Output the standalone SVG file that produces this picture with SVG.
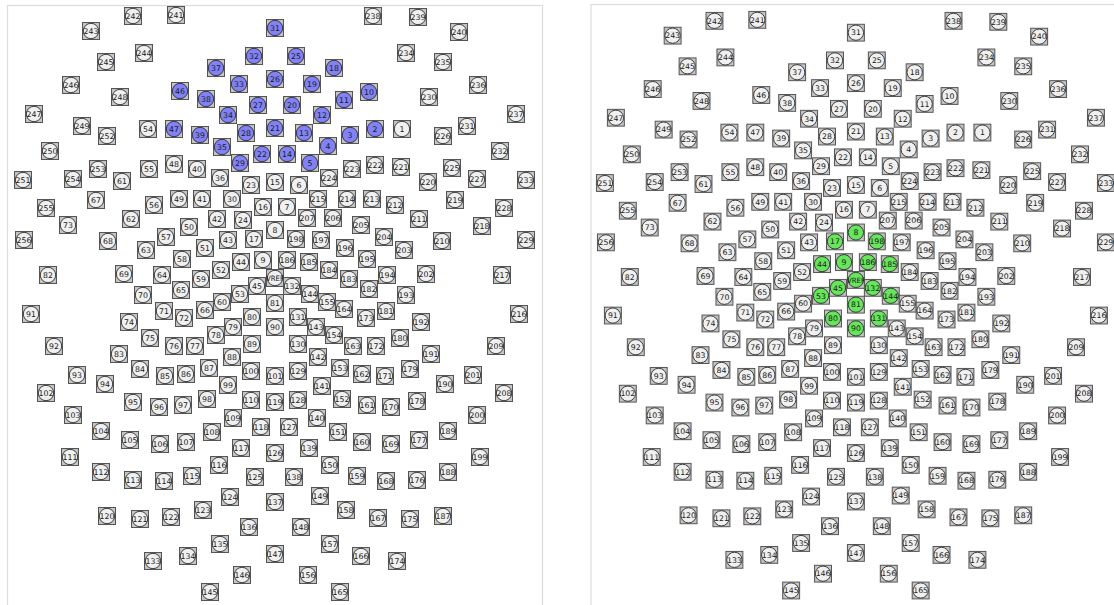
<svg xmlns="http://www.w3.org/2000/svg" xmlns:xlink="http://www.w3.org/1999/xlink" width="1114" height="605" viewBox="0 0 1114 605">
<style>
.n use{fill:#f0f0f0}
.n.b use{fill:#8282f7}
.n.g use{fill:#66e65a}
.n text{font-family:"DejaVu Sans",sans-serif;font-size:7.8px;text-anchor:middle;fill:#1a1a1a}
.n text.v{font-size:7.4px}
.frame{fill:#fff;stroke:#dcdcdc;stroke-width:1.2}
</style>
<defs>
<g id="e"><rect x="-8.5" y="-8.5" width="17" height="17" fill="#c4c4c4" stroke="#555" stroke-width="1"/><circle r="7.7" stroke="#2a2a2a" stroke-width="0.9"/></g>
</defs>
<rect width="1114" height="605" fill="#fff"/>
<rect class="frame" x="7.5" y="5.5" width="535" height="605"/>
<rect class="frame" x="591" y="4.5" width="530" height="605"/>
<g id="panelA">
<g id="a1" class="n" transform="translate(402 129)"><use href="#e"/><text y="2.8">1</text></g>
<g id="a2" class="n b" transform="translate(375 129)"><use href="#e"/><text y="2.8">2</text></g>
<g id="a3" class="n b" transform="translate(350 135)"><use href="#e"/><text y="2.8">3</text></g>
<g id="a4" class="n b" transform="translate(328 146)"><use href="#e"/><text y="2.8">4</text></g>
<g id="a5" class="n b" transform="translate(310 163)"><use href="#e"/><text y="2.8">5</text></g>
<g id="a6" class="n" transform="translate(299 185)"><use href="#e"/><text y="2.8">6</text></g>
<g id="a7" class="n" transform="translate(287 207)"><use href="#e"/><text y="2.8">7</text></g>
<g id="a8" class="n" transform="translate(275 230)"><use href="#e"/><text y="2.8">8</text></g>
<g id="a9" class="n" transform="translate(263 260)"><use href="#e"/><text y="2.8">9</text></g>
<g id="a10" class="n b" transform="translate(369 92)"><use href="#e"/><text y="2.8">10</text></g>
<g id="a11" class="n b" transform="translate(344 100)"><use href="#e"/><text y="2.8">11</text></g>
<g id="a12" class="n b" transform="translate(322 115)"><use href="#e"/><text y="2.8">12</text></g>
<g id="a13" class="n b" transform="translate(304 133)"><use href="#e"/><text y="2.8">13</text></g>
<g id="a14" class="n b" transform="translate(287 154)"><use href="#e"/><text y="2.8">14</text></g>
<g id="a15" class="n" transform="translate(275 182)"><use href="#e"/><text y="2.8">15</text></g>
<g id="a16" class="n" transform="translate(263 207)"><use href="#e"/><text y="2.8">16</text></g>
<g id="a17" class="n" transform="translate(254 239)"><use href="#e"/><text y="2.8">17</text></g>
<g id="a18" class="n b" transform="translate(334 68)"><use href="#e"/><text y="2.8">18</text></g>
<g id="a19" class="n b" transform="translate(312 84)"><use href="#e"/><text y="2.8">19</text></g>
<g id="a20" class="n b" transform="translate(292 105)"><use href="#e"/><text y="2.8">20</text></g>
<g id="a21" class="n b" transform="translate(275 128)"><use href="#e"/><text y="2.8">21</text></g>
<g id="a22" class="n b" transform="translate(262 154)"><use href="#e"/><text y="2.8">22</text></g>
<g id="a23" class="n" transform="translate(251 185)"><use href="#e"/><text y="2.8">23</text></g>
<g id="a24" class="n" transform="translate(243 220)"><use href="#e"/><text y="2.8">24</text></g>
<g id="a25" class="n b" transform="translate(296 56)"><use href="#e"/><text y="2.8">25</text></g>
<g id="a26" class="n b" transform="translate(275 79)"><use href="#e"/><text y="2.8">26</text></g>
<g id="a27" class="n b" transform="translate(258 105)"><use href="#e"/><text y="2.8">27</text></g>
<g id="a28" class="n b" transform="translate(246 133)"><use href="#e"/><text y="2.8">28</text></g>
<g id="a29" class="n b" transform="translate(240 163)"><use href="#e"/><text y="2.8">29</text></g>
<g id="a30" class="n" transform="translate(232 199)"><use href="#e"/><text y="2.8">30</text></g>
<g id="a31" class="n b" transform="translate(275 28)"><use href="#e"/><text y="2.8">31</text></g>
<g id="a32" class="n b" transform="translate(254 56)"><use href="#e"/><text y="2.8">32</text></g>
<g id="a33" class="n b" transform="translate(239 84)"><use href="#e"/><text y="2.8">33</text></g>
<g id="a34" class="n b" transform="translate(228 115)"><use href="#e"/><text y="2.8">34</text></g>
<g id="a35" class="n b" transform="translate(222 147)"><use href="#e"/><text y="2.8">35</text></g>
<g id="a36" class="n" transform="translate(220 178)"><use href="#e"/><text y="2.8">36</text></g>
<g id="a37" class="n b" transform="translate(216 68)"><use href="#e"/><text y="2.8">37</text></g>
<g id="a38" class="n b" transform="translate(206 99)"><use href="#e"/><text y="2.8">38</text></g>
<g id="a39" class="n b" transform="translate(200 135)"><use href="#e"/><text y="2.8">39</text></g>
<g id="a40" class="n" transform="translate(197 169)"><use href="#e"/><text y="2.8">40</text></g>
<g id="a41" class="n" transform="translate(202 199)"><use href="#e"/><text y="2.8">41</text></g>
<g id="a42" class="n" transform="translate(217 219)"><use href="#e"/><text y="2.8">42</text></g>
<g id="a43" class="n" transform="translate(228 240)"><use href="#e"/><text y="2.8">43</text></g>
<g id="a44" class="n" transform="translate(241 262)"><use href="#e"/><text y="2.8">44</text></g>
<g id="a45" class="n" transform="translate(257 286)"><use href="#e"/><text y="2.8">45</text></g>
<g id="a46" class="n b" transform="translate(180 91)"><use href="#e"/><text y="2.8">46</text></g>
<g id="a47" class="n b" transform="translate(174 129)"><use href="#e"/><text y="2.8">47</text></g>
<g id="a48" class="n" transform="translate(174 164)"><use href="#e"/><text y="2.8">48</text></g>
<g id="a49" class="n" transform="translate(179 199)"><use href="#e"/><text y="2.8">49</text></g>
<g id="a50" class="n" transform="translate(189 227)"><use href="#e"/><text y="2.8">50</text></g>
<g id="a51" class="n" transform="translate(205 248)"><use href="#e"/><text y="2.8">51</text></g>
<g id="a52" class="n" transform="translate(221 270)"><use href="#e"/><text y="2.8">52</text></g>
<g id="a53" class="n" transform="translate(240 294)"><use href="#e"/><text y="2.8">53</text></g>
<g id="a54" class="n" transform="translate(148 129)"><use href="#e"/><text y="2.8">54</text></g>
<g id="a55" class="n" transform="translate(149 169)"><use href="#e"/><text y="2.8">55</text></g>
<g id="a56" class="n" transform="translate(154 205)"><use href="#e"/><text y="2.8">56</text></g>
<g id="a57" class="n" transform="translate(166 237)"><use href="#e"/><text y="2.8">57</text></g>
<g id="a58" class="n" transform="translate(182 259)"><use href="#e"/><text y="2.8">58</text></g>
<g id="a59" class="n" transform="translate(201 279)"><use href="#e"/><text y="2.8">59</text></g>
<g id="a60" class="n" transform="translate(222 302)"><use href="#e"/><text y="2.8">60</text></g>
<g id="a61" class="n" transform="translate(122 181)"><use href="#e"/><text y="2.8">61</text></g>
<g id="a62" class="n" transform="translate(131 219)"><use href="#e"/><text y="2.8">62</text></g>
<g id="a63" class="n" transform="translate(146 250)"><use href="#e"/><text y="2.8">63</text></g>
<g id="a64" class="n" transform="translate(162 275)"><use href="#e"/><text y="2.8">64</text></g>
<g id="a65" class="n" transform="translate(181 290)"><use href="#e"/><text y="2.8">65</text></g>
<g id="a66" class="n" transform="translate(205 310)"><use href="#e"/><text y="2.8">66</text></g>
<g id="a67" class="n" transform="translate(96 200)"><use href="#e"/><text y="2.8">67</text></g>
<g id="a68" class="n" transform="translate(108 241)"><use href="#e"/><text y="2.8">68</text></g>
<g id="a69" class="n" transform="translate(124 274)"><use href="#e"/><text y="2.8">69</text></g>
<g id="a70" class="n" transform="translate(143 295)"><use href="#e"/><text y="2.8">70</text></g>
<g id="a71" class="n" transform="translate(164 311)"><use href="#e"/><text y="2.8">71</text></g>
<g id="a72" class="n" transform="translate(184 318)"><use href="#e"/><text y="2.8">72</text></g>
<g id="a73" class="n" transform="translate(68 225)"><use href="#e"/><text y="2.8">73</text></g>
<g id="a74" class="n" transform="translate(129 322)"><use href="#e"/><text y="2.8">74</text></g>
<g id="a75" class="n" transform="translate(150 338)"><use href="#e"/><text y="2.8">75</text></g>
<g id="a76" class="n" transform="translate(174 346)"><use href="#e"/><text y="2.8">76</text></g>
<g id="a77" class="n" transform="translate(195 346)"><use href="#e"/><text y="2.8">77</text></g>
<g id="a78" class="n" transform="translate(216 335)"><use href="#e"/><text y="2.8">78</text></g>
<g id="a79" class="n" transform="translate(233 327)"><use href="#e"/><text y="2.8">79</text></g>
<g id="a80" class="n" transform="translate(252 317)"><use href="#e"/><text y="2.8">80</text></g>
<g id="a81" class="n" transform="translate(275 303)"><use href="#e"/><text y="2.8">81</text></g>
<g id="a82" class="n" transform="translate(48 275)"><use href="#e"/><text y="2.8">82</text></g>
<g id="a83" class="n" transform="translate(119 354)"><use href="#e"/><text y="2.8">83</text></g>
<g id="a84" class="n" transform="translate(140 369)"><use href="#e"/><text y="2.8">84</text></g>
<g id="a85" class="n" transform="translate(165 376)"><use href="#e"/><text y="2.8">85</text></g>
<g id="a86" class="n" transform="translate(186 374)"><use href="#e"/><text y="2.8">86</text></g>
<g id="a87" class="n" transform="translate(209 368)"><use href="#e"/><text y="2.8">87</text></g>
<g id="a88" class="n" transform="translate(232 357)"><use href="#e"/><text y="2.8">88</text></g>
<g id="a89" class="n" transform="translate(252 344)"><use href="#e"/><text y="2.8">89</text></g>
<g id="a90" class="n" transform="translate(275 327)"><use href="#e"/><text y="2.8">90</text></g>
<g id="a91" class="n" transform="translate(31 314)"><use href="#e"/><text y="2.8">91</text></g>
<g id="a92" class="n" transform="translate(54 346)"><use href="#e"/><text y="2.8">92</text></g>
<g id="a93" class="n" transform="translate(77 375)"><use href="#e"/><text y="2.8">93</text></g>
<g id="a94" class="n" transform="translate(105 384)"><use href="#e"/><text y="2.8">94</text></g>
<g id="a95" class="n" transform="translate(133 402)"><use href="#e"/><text y="2.8">95</text></g>
<g id="a96" class="n" transform="translate(159 407)"><use href="#e"/><text y="2.8">96</text></g>
<g id="a97" class="n" transform="translate(183 405)"><use href="#e"/><text y="2.8">97</text></g>
<g id="a98" class="n" transform="translate(207 399)"><use href="#e"/><text y="2.8">98</text></g>
<g id="a99" class="n" transform="translate(228 385)"><use href="#e"/><text y="2.8">99</text></g>
<g id="a100" class="n" transform="translate(251 371)"><use href="#e"/><text y="2.8">100</text></g>
<g id="a101" class="n" transform="translate(275 376)"><use href="#e"/><text y="2.8">101</text></g>
<g id="a102" class="n" transform="translate(46 393)"><use href="#e"/><text y="2.8">102</text></g>
<g id="a103" class="n" transform="translate(73 415)"><use href="#e"/><text y="2.8">103</text></g>
<g id="a104" class="n" transform="translate(101 431)"><use href="#e"/><text y="2.8">104</text></g>
<g id="a105" class="n" transform="translate(130 440)"><use href="#e"/><text y="2.8">105</text></g>
<g id="a106" class="n" transform="translate(160 444)"><use href="#e"/><text y="2.8">106</text></g>
<g id="a107" class="n" transform="translate(186 442)"><use href="#e"/><text y="2.8">107</text></g>
<g id="a108" class="n" transform="translate(212 432)"><use href="#e"/><text y="2.8">108</text></g>
<g id="a109" class="n" transform="translate(233 418)"><use href="#e"/><text y="2.8">109</text></g>
<g id="a110" class="n" transform="translate(251 400)"><use href="#e"/><text y="2.8">110</text></g>
<g id="a111" class="n" transform="translate(70 457)"><use href="#e"/><text y="2.8">111</text></g>
<g id="a112" class="n" transform="translate(101 472)"><use href="#e"/><text y="2.8">112</text></g>
<g id="a113" class="n" transform="translate(133 480)"><use href="#e"/><text y="2.8">113</text></g>
<g id="a114" class="n" transform="translate(164 481)"><use href="#e"/><text y="2.8">114</text></g>
<g id="a115" class="n" transform="translate(192 476)"><use href="#e"/><text y="2.8">115</text></g>
<g id="a116" class="n" transform="translate(219 465)"><use href="#e"/><text y="2.8">116</text></g>
<g id="a117" class="n" transform="translate(241 448)"><use href="#e"/><text y="2.8">117</text></g>
<g id="a118" class="n" transform="translate(261 427)"><use href="#e"/><text y="2.8">118</text></g>
<g id="a119" class="n" transform="translate(275 402)"><use href="#e"/><text y="2.8">119</text></g>
<g id="a120" class="n" transform="translate(107 516)"><use href="#e"/><text y="2.8">120</text></g>
<g id="a121" class="n" transform="translate(140 519)"><use href="#e"/><text y="2.8">121</text></g>
<g id="a122" class="n" transform="translate(171 517)"><use href="#e"/><text y="2.8">122</text></g>
<g id="a123" class="n" transform="translate(203 510)"><use href="#e"/><text y="2.8">123</text></g>
<g id="a124" class="n" transform="translate(230 497)"><use href="#e"/><text y="2.8">124</text></g>
<g id="a125" class="n" transform="translate(255 477)"><use href="#e"/><text y="2.8">125</text></g>
<g id="a126" class="n" transform="translate(275 453)"><use href="#e"/><text y="2.8">126</text></g>
<g id="a127" class="n" transform="translate(289 427)"><use href="#e"/><text y="2.8">127</text></g>
<g id="a128" class="n" transform="translate(298 400)"><use href="#e"/><text y="2.8">128</text></g>
<g id="a129" class="n" transform="translate(298 371)"><use href="#e"/><text y="2.8">129</text></g>
<g id="a130" class="n" transform="translate(298 344)"><use href="#e"/><text y="2.8">130</text></g>
<g id="a131" class="n" transform="translate(298 317)"><use href="#e"/><text y="2.8">131</text></g>
<g id="a132" class="n" transform="translate(292 286)"><use href="#e"/><text y="2.8">132</text></g>
<g id="a133" class="n" transform="translate(153 561)"><use href="#e"/><text y="2.8">133</text></g>
<g id="a134" class="n" transform="translate(188 556)"><use href="#e"/><text y="2.8">134</text></g>
<g id="a135" class="n" transform="translate(220 544)"><use href="#e"/><text y="2.8">135</text></g>
<g id="a136" class="n" transform="translate(249 527)"><use href="#e"/><text y="2.8">136</text></g>
<g id="a137" class="n" transform="translate(275 502)"><use href="#e"/><text y="2.8">137</text></g>
<g id="a138" class="n" transform="translate(294 477)"><use href="#e"/><text y="2.8">138</text></g>
<g id="a139" class="n" transform="translate(309 448)"><use href="#e"/><text y="2.8">139</text></g>
<g id="a140" class="n" transform="translate(317 418)"><use href="#e"/><text y="2.8">140</text></g>
<g id="a141" class="n" transform="translate(322 386)"><use href="#e"/><text y="2.8">141</text></g>
<g id="a142" class="n" transform="translate(318 357)"><use href="#e"/><text y="2.8">142</text></g>
<g id="a143" class="n" transform="translate(316 327)"><use href="#e"/><text y="2.8">143</text></g>
<g id="a144" class="n" transform="translate(310 294)"><use href="#e"/><text y="2.8">144</text></g>
<g id="a145" class="n" transform="translate(210 592)"><use href="#e"/><text y="2.8">145</text></g>
<g id="a146" class="n" transform="translate(242 575)"><use href="#e"/><text y="2.8">146</text></g>
<g id="a147" class="n" transform="translate(275 554)"><use href="#e"/><text y="2.8">147</text></g>
<g id="a148" class="n" transform="translate(301 527)"><use href="#e"/><text y="2.8">148</text></g>
<g id="a149" class="n" transform="translate(320 496)"><use href="#e"/><text y="2.8">149</text></g>
<g id="a150" class="n" transform="translate(330 465)"><use href="#e"/><text y="2.8">150</text></g>
<g id="a151" class="n" transform="translate(338 432)"><use href="#e"/><text y="2.8">151</text></g>
<g id="a152" class="n" transform="translate(342 399)"><use href="#e"/><text y="2.8">152</text></g>
<g id="a153" class="n" transform="translate(340 368)"><use href="#e"/><text y="2.8">153</text></g>
<g id="a154" class="n" transform="translate(334 335)"><use href="#e"/><text y="2.8">154</text></g>
<g id="a155" class="n" transform="translate(327 302)"><use href="#e"/><text y="2.8">155</text></g>
<g id="a156" class="n" transform="translate(308 575)"><use href="#e"/><text y="2.8">156</text></g>
<g id="a157" class="n" transform="translate(330 544)"><use href="#e"/><text y="2.8">157</text></g>
<g id="a158" class="n" transform="translate(346 510)"><use href="#e"/><text y="2.8">158</text></g>
<g id="a159" class="n" transform="translate(357 476)"><use href="#e"/><text y="2.8">159</text></g>
<g id="a160" class="n" transform="translate(362 442)"><use href="#e"/><text y="2.8">160</text></g>
<g id="a161" class="n" transform="translate(367 405)"><use href="#e"/><text y="2.8">161</text></g>
<g id="a162" class="n" transform="translate(362 374)"><use href="#e"/><text y="2.8">162</text></g>
<g id="a163" class="n" transform="translate(353 346)"><use href="#e"/><text y="2.8">163</text></g>
<g id="a164" class="n" transform="translate(344 309)"><use href="#e"/><text y="2.8">164</text></g>
<g id="a165" class="n" transform="translate(340 592)"><use href="#e"/><text y="2.8">165</text></g>
<g id="a166" class="n" transform="translate(361 556)"><use href="#e"/><text y="2.8">166</text></g>
<g id="a167" class="n" transform="translate(378 518)"><use href="#e"/><text y="2.8">167</text></g>
<g id="a168" class="n" transform="translate(386 481)"><use href="#e"/><text y="2.8">168</text></g>
<g id="a169" class="n" transform="translate(391 444)"><use href="#e"/><text y="2.8">169</text></g>
<g id="a170" class="n" transform="translate(391 407)"><use href="#e"/><text y="2.8">170</text></g>
<g id="a171" class="n" transform="translate(385 376)"><use href="#e"/><text y="2.8">171</text></g>
<g id="a172" class="n" transform="translate(376 346)"><use href="#e"/><text y="2.8">172</text></g>
<g id="a173" class="n" transform="translate(366 318)"><use href="#e"/><text y="2.8">173</text></g>
<g id="a174" class="n" transform="translate(397 561)"><use href="#e"/><text y="2.8">174</text></g>
<g id="a175" class="n" transform="translate(410 519)"><use href="#e"/><text y="2.8">175</text></g>
<g id="a176" class="n" transform="translate(417 480)"><use href="#e"/><text y="2.8">176</text></g>
<g id="a177" class="n" transform="translate(419 440)"><use href="#e"/><text y="2.8">177</text></g>
<g id="a178" class="n" transform="translate(417 401)"><use href="#e"/><text y="2.8">178</text></g>
<g id="a179" class="n" transform="translate(410 369)"><use href="#e"/><text y="2.8">179</text></g>
<g id="a180" class="n" transform="translate(400 338)"><use href="#e"/><text y="2.8">180</text></g>
<g id="a181" class="n" transform="translate(386 311)"><use href="#e"/><text y="2.8">181</text></g>
<g id="a182" class="n" transform="translate(369 289)"><use href="#e"/><text y="2.8">182</text></g>
<g id="a183" class="n" transform="translate(349 279)"><use href="#e"/><text y="2.8">183</text></g>
<g id="a184" class="n" transform="translate(329 270)"><use href="#e"/><text y="2.8">184</text></g>
<g id="a185" class="n" transform="translate(309 262)"><use href="#e"/><text y="2.8">185</text></g>
<g id="a186" class="n" transform="translate(287 260)"><use href="#e"/><text y="2.8">186</text></g>
<g id="a187" class="n" transform="translate(443 516)"><use href="#e"/><text y="2.8">187</text></g>
<g id="a188" class="n" transform="translate(448 472)"><use href="#e"/><text y="2.8">188</text></g>
<g id="a189" class="n" transform="translate(448 431)"><use href="#e"/><text y="2.8">189</text></g>
<g id="a190" class="n" transform="translate(445 384)"><use href="#e"/><text y="2.8">190</text></g>
<g id="a191" class="n" transform="translate(431 354)"><use href="#e"/><text y="2.8">191</text></g>
<g id="a192" class="n" transform="translate(421 322)"><use href="#e"/><text y="2.8">192</text></g>
<g id="a193" class="n" transform="translate(406 295)"><use href="#e"/><text y="2.8">193</text></g>
<g id="a194" class="n" transform="translate(387 275)"><use href="#e"/><text y="2.8">194</text></g>
<g id="a195" class="n" transform="translate(367 259)"><use href="#e"/><text y="2.8">195</text></g>
<g id="a196" class="n" transform="translate(345 248)"><use href="#e"/><text y="2.8">196</text></g>
<g id="a197" class="n" transform="translate(321 240)"><use href="#e"/><text y="2.8">197</text></g>
<g id="a198" class="n" transform="translate(296 239)"><use href="#e"/><text y="2.8">198</text></g>
<g id="a199" class="n" transform="translate(480 457)"><use href="#e"/><text y="2.8">199</text></g>
<g id="a200" class="n" transform="translate(477 415)"><use href="#e"/><text y="2.8">200</text></g>
<g id="a201" class="n" transform="translate(473 375)"><use href="#e"/><text y="2.8">201</text></g>
<g id="a202" class="n" transform="translate(426 274)"><use href="#e"/><text y="2.8">202</text></g>
<g id="a203" class="n" transform="translate(404 250)"><use href="#e"/><text y="2.8">203</text></g>
<g id="a204" class="n" transform="translate(384 237)"><use href="#e"/><text y="2.8">204</text></g>
<g id="a205" class="n" transform="translate(361 225)"><use href="#e"/><text y="2.8">205</text></g>
<g id="a206" class="n" transform="translate(333 218)"><use href="#e"/><text y="2.8">206</text></g>
<g id="a207" class="n" transform="translate(307 218)"><use href="#e"/><text y="2.8">207</text></g>
<g id="a208" class="n" transform="translate(504 393)"><use href="#e"/><text y="2.8">208</text></g>
<g id="a209" class="n" transform="translate(496 346)"><use href="#e"/><text y="2.8">209</text></g>
<g id="a210" class="n" transform="translate(442 241)"><use href="#e"/><text y="2.8">210</text></g>
<g id="a211" class="n" transform="translate(419 219)"><use href="#e"/><text y="2.8">211</text></g>
<g id="a212" class="n" transform="translate(395 205)"><use href="#e"/><text y="2.8">212</text></g>
<g id="a213" class="n" transform="translate(372 199)"><use href="#e"/><text y="2.8">213</text></g>
<g id="a214" class="n" transform="translate(347 199)"><use href="#e"/><text y="2.8">214</text></g>
<g id="a215" class="n" transform="translate(318 199)"><use href="#e"/><text y="2.8">215</text></g>
<g id="a216" class="n" transform="translate(519 314)"><use href="#e"/><text y="2.8">216</text></g>
<g id="a217" class="n" transform="translate(502 275)"><use href="#e"/><text y="2.8">217</text></g>
<g id="a218" class="n" transform="translate(482 226)"><use href="#e"/><text y="2.8">218</text></g>
<g id="a219" class="n" transform="translate(455 200)"><use href="#e"/><text y="2.8">219</text></g>
<g id="a220" class="n" transform="translate(428 182)"><use href="#e"/><text y="2.8">220</text></g>
<g id="a221" class="n" transform="translate(401 167)"><use href="#e"/><text y="2.8">221</text></g>
<g id="a222" class="n" transform="translate(375 165)"><use href="#e"/><text y="2.8">222</text></g>
<g id="a223" class="n" transform="translate(352 169)"><use href="#e"/><text y="2.8">223</text></g>
<g id="a224" class="n" transform="translate(329 178)"><use href="#e"/><text y="2.8">224</text></g>
<g id="a225" class="n" transform="translate(452 168)"><use href="#e"/><text y="2.8">225</text></g>
<g id="a226" class="n" transform="translate(443 136)"><use href="#e"/><text y="2.8">226</text></g>
<g id="a227" class="n" transform="translate(477 179)"><use href="#e"/><text y="2.8">227</text></g>
<g id="a228" class="n" transform="translate(504 208)"><use href="#e"/><text y="2.8">228</text></g>
<g id="a229" class="n" transform="translate(526 240)"><use href="#e"/><text y="2.8">229</text></g>
<g id="a230" class="n" transform="translate(429 97)"><use href="#e"/><text y="2.8">230</text></g>
<g id="a231" class="n" transform="translate(467 126)"><use href="#e"/><text y="2.8">231</text></g>
<g id="a232" class="n" transform="translate(500 151)"><use href="#e"/><text y="2.8">232</text></g>
<g id="a233" class="n" transform="translate(526 180)"><use href="#e"/><text y="2.8">233</text></g>
<g id="a234" class="n" transform="translate(406 53)"><use href="#e"/><text y="2.8">234</text></g>
<g id="a235" class="n" transform="translate(443 62)"><use href="#e"/><text y="2.8">235</text></g>
<g id="a236" class="n" transform="translate(478 85)"><use href="#e"/><text y="2.8">236</text></g>
<g id="a237" class="n" transform="translate(516 114)"><use href="#e"/><text y="2.8">237</text></g>
<g id="a238" class="n" transform="translate(373 16)"><use href="#e"/><text y="2.8">238</text></g>
<g id="a239" class="n" transform="translate(418 17)"><use href="#e"/><text y="2.8">239</text></g>
<g id="a240" class="n" transform="translate(459 32)"><use href="#e"/><text y="2.8">240</text></g>
<g id="a241" class="n" transform="translate(176 15)"><use href="#e"/><text y="2.8">241</text></g>
<g id="a242" class="n" transform="translate(133 16)"><use href="#e"/><text y="2.8">242</text></g>
<g id="a243" class="n" transform="translate(91 31)"><use href="#e"/><text y="2.8">243</text></g>
<g id="a244" class="n" transform="translate(144 53)"><use href="#e"/><text y="2.8">244</text></g>
<g id="a245" class="n" transform="translate(106 62)"><use href="#e"/><text y="2.8">245</text></g>
<g id="a246" class="n" transform="translate(71 85)"><use href="#e"/><text y="2.8">246</text></g>
<g id="a247" class="n" transform="translate(34 114)"><use href="#e"/><text y="2.8">247</text></g>
<g id="a248" class="n" transform="translate(120 97)"><use href="#e"/><text y="2.8">248</text></g>
<g id="a249" class="n" transform="translate(82 126)"><use href="#e"/><text y="2.8">249</text></g>
<g id="a250" class="n" transform="translate(50 151)"><use href="#e"/><text y="2.8">250</text></g>
<g id="a251" class="n" transform="translate(23 180)"><use href="#e"/><text y="2.8">251</text></g>
<g id="a252" class="n" transform="translate(107 136)"><use href="#e"/><text y="2.8">252</text></g>
<g id="a253" class="n" transform="translate(98 169)"><use href="#e"/><text y="2.8">253</text></g>
<g id="a254" class="n" transform="translate(73 179)"><use href="#e"/><text y="2.8">254</text></g>
<g id="a255" class="n" transform="translate(46 208)"><use href="#e"/><text y="2.8">255</text></g>
<g id="a256" class="n" transform="translate(24 240)"><use href="#e"/><text y="2.8">256</text></g>
<g id="aREF" class="n" transform="translate(275 278)"><use href="#e"/><text class="v" y="2.7" textLength="18" lengthAdjust="spacingAndGlyphs">VREF</text></g>
</g>
<g id="panelB" transform="translate(582 5) scale(0.996 0.989)">
<g id="b1" class="n" transform="translate(402 129)"><use href="#e"/><text y="2.8">1</text></g>
<g id="b2" class="n" transform="translate(375 129)"><use href="#e"/><text y="2.8">2</text></g>
<g id="b3" class="n" transform="translate(350 135)"><use href="#e"/><text y="2.8">3</text></g>
<g id="b4" class="n" transform="translate(328 146)"><use href="#e"/><text y="2.8">4</text></g>
<g id="b5" class="n" transform="translate(310 163)"><use href="#e"/><text y="2.8">5</text></g>
<g id="b6" class="n" transform="translate(299 185)"><use href="#e"/><text y="2.8">6</text></g>
<g id="b7" class="n" transform="translate(287 207)"><use href="#e"/><text y="2.8">7</text></g>
<g id="b8" class="n g" transform="translate(275 230)"><use href="#e"/><text y="2.8">8</text></g>
<g id="b9" class="n g" transform="translate(263 260)"><use href="#e"/><text y="2.8">9</text></g>
<g id="b10" class="n" transform="translate(369 92)"><use href="#e"/><text y="2.8">10</text></g>
<g id="b11" class="n" transform="translate(344 100)"><use href="#e"/><text y="2.8">11</text></g>
<g id="b12" class="n" transform="translate(322 115)"><use href="#e"/><text y="2.8">12</text></g>
<g id="b13" class="n" transform="translate(304 133)"><use href="#e"/><text y="2.8">13</text></g>
<g id="b14" class="n" transform="translate(287 154)"><use href="#e"/><text y="2.8">14</text></g>
<g id="b15" class="n" transform="translate(275 182)"><use href="#e"/><text y="2.8">15</text></g>
<g id="b16" class="n" transform="translate(263 207)"><use href="#e"/><text y="2.8">16</text></g>
<g id="b17" class="n g" transform="translate(254 239)"><use href="#e"/><text y="2.8">17</text></g>
<g id="b18" class="n" transform="translate(334 68)"><use href="#e"/><text y="2.8">18</text></g>
<g id="b19" class="n" transform="translate(312 84)"><use href="#e"/><text y="2.8">19</text></g>
<g id="b20" class="n" transform="translate(292 105)"><use href="#e"/><text y="2.8">20</text></g>
<g id="b21" class="n" transform="translate(275 128)"><use href="#e"/><text y="2.8">21</text></g>
<g id="b22" class="n" transform="translate(262 154)"><use href="#e"/><text y="2.8">22</text></g>
<g id="b23" class="n" transform="translate(251 185)"><use href="#e"/><text y="2.8">23</text></g>
<g id="b24" class="n" transform="translate(243 220)"><use href="#e"/><text y="2.8">24</text></g>
<g id="b25" class="n" transform="translate(296 56)"><use href="#e"/><text y="2.8">25</text></g>
<g id="b26" class="n" transform="translate(275 79)"><use href="#e"/><text y="2.8">26</text></g>
<g id="b27" class="n" transform="translate(258 105)"><use href="#e"/><text y="2.8">27</text></g>
<g id="b28" class="n" transform="translate(246 133)"><use href="#e"/><text y="2.8">28</text></g>
<g id="b29" class="n" transform="translate(240 163)"><use href="#e"/><text y="2.8">29</text></g>
<g id="b30" class="n" transform="translate(232 199)"><use href="#e"/><text y="2.8">30</text></g>
<g id="b31" class="n" transform="translate(275 28)"><use href="#e"/><text y="2.8">31</text></g>
<g id="b32" class="n" transform="translate(254 56)"><use href="#e"/><text y="2.8">32</text></g>
<g id="b33" class="n" transform="translate(239 84)"><use href="#e"/><text y="2.8">33</text></g>
<g id="b34" class="n" transform="translate(228 115)"><use href="#e"/><text y="2.8">34</text></g>
<g id="b35" class="n" transform="translate(222 147)"><use href="#e"/><text y="2.8">35</text></g>
<g id="b36" class="n" transform="translate(220 178)"><use href="#e"/><text y="2.8">36</text></g>
<g id="b37" class="n" transform="translate(216 68)"><use href="#e"/><text y="2.8">37</text></g>
<g id="b38" class="n" transform="translate(206 99)"><use href="#e"/><text y="2.8">38</text></g>
<g id="b39" class="n" transform="translate(200 135)"><use href="#e"/><text y="2.8">39</text></g>
<g id="b40" class="n" transform="translate(197 169)"><use href="#e"/><text y="2.8">40</text></g>
<g id="b41" class="n" transform="translate(202 199)"><use href="#e"/><text y="2.8">41</text></g>
<g id="b42" class="n" transform="translate(217 219)"><use href="#e"/><text y="2.8">42</text></g>
<g id="b43" class="n" transform="translate(228 240)"><use href="#e"/><text y="2.8">43</text></g>
<g id="b44" class="n g" transform="translate(241 262)"><use href="#e"/><text y="2.8">44</text></g>
<g id="b45" class="n g" transform="translate(257 286)"><use href="#e"/><text y="2.8">45</text></g>
<g id="b46" class="n" transform="translate(180 91)"><use href="#e"/><text y="2.8">46</text></g>
<g id="b47" class="n" transform="translate(174 129)"><use href="#e"/><text y="2.8">47</text></g>
<g id="b48" class="n" transform="translate(174 164)"><use href="#e"/><text y="2.8">48</text></g>
<g id="b49" class="n" transform="translate(179 199)"><use href="#e"/><text y="2.8">49</text></g>
<g id="b50" class="n" transform="translate(189 227)"><use href="#e"/><text y="2.8">50</text></g>
<g id="b51" class="n" transform="translate(205 248)"><use href="#e"/><text y="2.8">51</text></g>
<g id="b52" class="n" transform="translate(221 270)"><use href="#e"/><text y="2.8">52</text></g>
<g id="b53" class="n g" transform="translate(240 294)"><use href="#e"/><text y="2.8">53</text></g>
<g id="b54" class="n" transform="translate(148 129)"><use href="#e"/><text y="2.8">54</text></g>
<g id="b55" class="n" transform="translate(149 169)"><use href="#e"/><text y="2.8">55</text></g>
<g id="b56" class="n" transform="translate(154 205)"><use href="#e"/><text y="2.8">56</text></g>
<g id="b57" class="n" transform="translate(166 237)"><use href="#e"/><text y="2.8">57</text></g>
<g id="b58" class="n" transform="translate(182 259)"><use href="#e"/><text y="2.8">58</text></g>
<g id="b59" class="n" transform="translate(201 279)"><use href="#e"/><text y="2.8">59</text></g>
<g id="b60" class="n" transform="translate(222 302)"><use href="#e"/><text y="2.8">60</text></g>
<g id="b61" class="n" transform="translate(122 181)"><use href="#e"/><text y="2.8">61</text></g>
<g id="b62" class="n" transform="translate(131 219)"><use href="#e"/><text y="2.8">62</text></g>
<g id="b63" class="n" transform="translate(146 250)"><use href="#e"/><text y="2.8">63</text></g>
<g id="b64" class="n" transform="translate(162 275)"><use href="#e"/><text y="2.8">64</text></g>
<g id="b65" class="n" transform="translate(181 290)"><use href="#e"/><text y="2.8">65</text></g>
<g id="b66" class="n" transform="translate(205 310)"><use href="#e"/><text y="2.8">66</text></g>
<g id="b67" class="n" transform="translate(96 200)"><use href="#e"/><text y="2.8">67</text></g>
<g id="b68" class="n" transform="translate(108 241)"><use href="#e"/><text y="2.8">68</text></g>
<g id="b69" class="n" transform="translate(124 274)"><use href="#e"/><text y="2.8">69</text></g>
<g id="b70" class="n" transform="translate(143 295)"><use href="#e"/><text y="2.8">70</text></g>
<g id="b71" class="n" transform="translate(164 311)"><use href="#e"/><text y="2.8">71</text></g>
<g id="b72" class="n" transform="translate(184 318)"><use href="#e"/><text y="2.8">72</text></g>
<g id="b73" class="n" transform="translate(68 225)"><use href="#e"/><text y="2.8">73</text></g>
<g id="b74" class="n" transform="translate(129 322)"><use href="#e"/><text y="2.8">74</text></g>
<g id="b75" class="n" transform="translate(150 338)"><use href="#e"/><text y="2.8">75</text></g>
<g id="b76" class="n" transform="translate(174 346)"><use href="#e"/><text y="2.8">76</text></g>
<g id="b77" class="n" transform="translate(195 346)"><use href="#e"/><text y="2.8">77</text></g>
<g id="b78" class="n" transform="translate(216 335)"><use href="#e"/><text y="2.8">78</text></g>
<g id="b79" class="n" transform="translate(233 327)"><use href="#e"/><text y="2.8">79</text></g>
<g id="b80" class="n g" transform="translate(252 317)"><use href="#e"/><text y="2.8">80</text></g>
<g id="b81" class="n g" transform="translate(275 303)"><use href="#e"/><text y="2.8">81</text></g>
<g id="b82" class="n" transform="translate(48 275)"><use href="#e"/><text y="2.8">82</text></g>
<g id="b83" class="n" transform="translate(119 354)"><use href="#e"/><text y="2.8">83</text></g>
<g id="b84" class="n" transform="translate(140 369)"><use href="#e"/><text y="2.8">84</text></g>
<g id="b85" class="n" transform="translate(165 376)"><use href="#e"/><text y="2.8">85</text></g>
<g id="b86" class="n" transform="translate(186 374)"><use href="#e"/><text y="2.8">86</text></g>
<g id="b87" class="n" transform="translate(209 368)"><use href="#e"/><text y="2.8">87</text></g>
<g id="b88" class="n" transform="translate(232 357)"><use href="#e"/><text y="2.8">88</text></g>
<g id="b89" class="n" transform="translate(252 344)"><use href="#e"/><text y="2.8">89</text></g>
<g id="b90" class="n g" transform="translate(275 327)"><use href="#e"/><text y="2.8">90</text></g>
<g id="b91" class="n" transform="translate(31 314)"><use href="#e"/><text y="2.8">91</text></g>
<g id="b92" class="n" transform="translate(54 346)"><use href="#e"/><text y="2.8">92</text></g>
<g id="b93" class="n" transform="translate(77 375)"><use href="#e"/><text y="2.8">93</text></g>
<g id="b94" class="n" transform="translate(105 384)"><use href="#e"/><text y="2.8">94</text></g>
<g id="b95" class="n" transform="translate(133 402)"><use href="#e"/><text y="2.8">95</text></g>
<g id="b96" class="n" transform="translate(159 407)"><use href="#e"/><text y="2.8">96</text></g>
<g id="b97" class="n" transform="translate(183 405)"><use href="#e"/><text y="2.8">97</text></g>
<g id="b98" class="n" transform="translate(207 399)"><use href="#e"/><text y="2.8">98</text></g>
<g id="b99" class="n" transform="translate(228 385)"><use href="#e"/><text y="2.8">99</text></g>
<g id="b100" class="n" transform="translate(251 371)"><use href="#e"/><text y="2.8">100</text></g>
<g id="b101" class="n" transform="translate(275 376)"><use href="#e"/><text y="2.8">101</text></g>
<g id="b102" class="n" transform="translate(46 393)"><use href="#e"/><text y="2.8">102</text></g>
<g id="b103" class="n" transform="translate(73 415)"><use href="#e"/><text y="2.8">103</text></g>
<g id="b104" class="n" transform="translate(101 431)"><use href="#e"/><text y="2.8">104</text></g>
<g id="b105" class="n" transform="translate(130 440)"><use href="#e"/><text y="2.8">105</text></g>
<g id="b106" class="n" transform="translate(160 444)"><use href="#e"/><text y="2.8">106</text></g>
<g id="b107" class="n" transform="translate(186 442)"><use href="#e"/><text y="2.8">107</text></g>
<g id="b108" class="n" transform="translate(212 432)"><use href="#e"/><text y="2.8">108</text></g>
<g id="b109" class="n" transform="translate(233 418)"><use href="#e"/><text y="2.8">109</text></g>
<g id="b110" class="n" transform="translate(251 400)"><use href="#e"/><text y="2.8">110</text></g>
<g id="b111" class="n" transform="translate(70 457)"><use href="#e"/><text y="2.8">111</text></g>
<g id="b112" class="n" transform="translate(101 472)"><use href="#e"/><text y="2.8">112</text></g>
<g id="b113" class="n" transform="translate(133 480)"><use href="#e"/><text y="2.8">113</text></g>
<g id="b114" class="n" transform="translate(164 481)"><use href="#e"/><text y="2.8">114</text></g>
<g id="b115" class="n" transform="translate(192 476)"><use href="#e"/><text y="2.8">115</text></g>
<g id="b116" class="n" transform="translate(219 465)"><use href="#e"/><text y="2.8">116</text></g>
<g id="b117" class="n" transform="translate(241 448)"><use href="#e"/><text y="2.8">117</text></g>
<g id="b118" class="n" transform="translate(261 427)"><use href="#e"/><text y="2.8">118</text></g>
<g id="b119" class="n" transform="translate(275 402)"><use href="#e"/><text y="2.8">119</text></g>
<g id="b120" class="n" transform="translate(107 516)"><use href="#e"/><text y="2.8">120</text></g>
<g id="b121" class="n" transform="translate(140 519)"><use href="#e"/><text y="2.8">121</text></g>
<g id="b122" class="n" transform="translate(171 517)"><use href="#e"/><text y="2.8">122</text></g>
<g id="b123" class="n" transform="translate(203 510)"><use href="#e"/><text y="2.8">123</text></g>
<g id="b124" class="n" transform="translate(230 497)"><use href="#e"/><text y="2.8">124</text></g>
<g id="b125" class="n" transform="translate(255 477)"><use href="#e"/><text y="2.8">125</text></g>
<g id="b126" class="n" transform="translate(275 453)"><use href="#e"/><text y="2.8">126</text></g>
<g id="b127" class="n" transform="translate(289 427)"><use href="#e"/><text y="2.8">127</text></g>
<g id="b128" class="n" transform="translate(298 400)"><use href="#e"/><text y="2.8">128</text></g>
<g id="b129" class="n" transform="translate(298 371)"><use href="#e"/><text y="2.8">129</text></g>
<g id="b130" class="n" transform="translate(298 344)"><use href="#e"/><text y="2.8">130</text></g>
<g id="b131" class="n g" transform="translate(298 317)"><use href="#e"/><text y="2.8">131</text></g>
<g id="b132" class="n g" transform="translate(292 286)"><use href="#e"/><text y="2.8">132</text></g>
<g id="b133" class="n" transform="translate(153 561)"><use href="#e"/><text y="2.8">133</text></g>
<g id="b134" class="n" transform="translate(188 556)"><use href="#e"/><text y="2.8">134</text></g>
<g id="b135" class="n" transform="translate(220 544)"><use href="#e"/><text y="2.8">135</text></g>
<g id="b136" class="n" transform="translate(249 527)"><use href="#e"/><text y="2.8">136</text></g>
<g id="b137" class="n" transform="translate(275 502)"><use href="#e"/><text y="2.8">137</text></g>
<g id="b138" class="n" transform="translate(294 477)"><use href="#e"/><text y="2.8">138</text></g>
<g id="b139" class="n" transform="translate(309 448)"><use href="#e"/><text y="2.8">139</text></g>
<g id="b140" class="n" transform="translate(317 418)"><use href="#e"/><text y="2.8">140</text></g>
<g id="b141" class="n" transform="translate(322 386)"><use href="#e"/><text y="2.8">141</text></g>
<g id="b142" class="n" transform="translate(318 357)"><use href="#e"/><text y="2.8">142</text></g>
<g id="b143" class="n" transform="translate(316 327)"><use href="#e"/><text y="2.8">143</text></g>
<g id="b144" class="n g" transform="translate(310 294)"><use href="#e"/><text y="2.8">144</text></g>
<g id="b145" class="n" transform="translate(210 592)"><use href="#e"/><text y="2.8">145</text></g>
<g id="b146" class="n" transform="translate(242 575)"><use href="#e"/><text y="2.8">146</text></g>
<g id="b147" class="n" transform="translate(275 554)"><use href="#e"/><text y="2.8">147</text></g>
<g id="b148" class="n" transform="translate(301 527)"><use href="#e"/><text y="2.8">148</text></g>
<g id="b149" class="n" transform="translate(320 496)"><use href="#e"/><text y="2.8">149</text></g>
<g id="b150" class="n" transform="translate(330 465)"><use href="#e"/><text y="2.8">150</text></g>
<g id="b151" class="n" transform="translate(338 432)"><use href="#e"/><text y="2.8">151</text></g>
<g id="b152" class="n" transform="translate(342 399)"><use href="#e"/><text y="2.8">152</text></g>
<g id="b153" class="n" transform="translate(340 368)"><use href="#e"/><text y="2.8">153</text></g>
<g id="b154" class="n" transform="translate(334 335)"><use href="#e"/><text y="2.8">154</text></g>
<g id="b155" class="n" transform="translate(327 302)"><use href="#e"/><text y="2.8">155</text></g>
<g id="b156" class="n" transform="translate(308 575)"><use href="#e"/><text y="2.8">156</text></g>
<g id="b157" class="n" transform="translate(330 544)"><use href="#e"/><text y="2.8">157</text></g>
<g id="b158" class="n" transform="translate(346 510)"><use href="#e"/><text y="2.8">158</text></g>
<g id="b159" class="n" transform="translate(357 476)"><use href="#e"/><text y="2.8">159</text></g>
<g id="b160" class="n" transform="translate(362 442)"><use href="#e"/><text y="2.8">160</text></g>
<g id="b161" class="n" transform="translate(367 405)"><use href="#e"/><text y="2.8">161</text></g>
<g id="b162" class="n" transform="translate(362 374)"><use href="#e"/><text y="2.8">162</text></g>
<g id="b163" class="n" transform="translate(353 346)"><use href="#e"/><text y="2.8">163</text></g>
<g id="b164" class="n" transform="translate(344 309)"><use href="#e"/><text y="2.8">164</text></g>
<g id="b165" class="n" transform="translate(340 592)"><use href="#e"/><text y="2.8">165</text></g>
<g id="b166" class="n" transform="translate(361 556)"><use href="#e"/><text y="2.8">166</text></g>
<g id="b167" class="n" transform="translate(378 518)"><use href="#e"/><text y="2.8">167</text></g>
<g id="b168" class="n" transform="translate(386 481)"><use href="#e"/><text y="2.8">168</text></g>
<g id="b169" class="n" transform="translate(391 444)"><use href="#e"/><text y="2.8">169</text></g>
<g id="b170" class="n" transform="translate(391 407)"><use href="#e"/><text y="2.8">170</text></g>
<g id="b171" class="n" transform="translate(385 376)"><use href="#e"/><text y="2.8">171</text></g>
<g id="b172" class="n" transform="translate(376 346)"><use href="#e"/><text y="2.8">172</text></g>
<g id="b173" class="n" transform="translate(366 318)"><use href="#e"/><text y="2.8">173</text></g>
<g id="b174" class="n" transform="translate(397 561)"><use href="#e"/><text y="2.8">174</text></g>
<g id="b175" class="n" transform="translate(410 519)"><use href="#e"/><text y="2.8">175</text></g>
<g id="b176" class="n" transform="translate(417 480)"><use href="#e"/><text y="2.8">176</text></g>
<g id="b177" class="n" transform="translate(419 440)"><use href="#e"/><text y="2.8">177</text></g>
<g id="b178" class="n" transform="translate(417 401)"><use href="#e"/><text y="2.8">178</text></g>
<g id="b179" class="n" transform="translate(410 369)"><use href="#e"/><text y="2.8">179</text></g>
<g id="b180" class="n" transform="translate(400 338)"><use href="#e"/><text y="2.8">180</text></g>
<g id="b181" class="n" transform="translate(386 311)"><use href="#e"/><text y="2.8">181</text></g>
<g id="b182" class="n" transform="translate(369 289)"><use href="#e"/><text y="2.8">182</text></g>
<g id="b183" class="n" transform="translate(349 279)"><use href="#e"/><text y="2.8">183</text></g>
<g id="b184" class="n" transform="translate(329 270)"><use href="#e"/><text y="2.8">184</text></g>
<g id="b185" class="n g" transform="translate(309 262)"><use href="#e"/><text y="2.8">185</text></g>
<g id="b186" class="n g" transform="translate(287 260)"><use href="#e"/><text y="2.8">186</text></g>
<g id="b187" class="n" transform="translate(443 516)"><use href="#e"/><text y="2.8">187</text></g>
<g id="b188" class="n" transform="translate(448 472)"><use href="#e"/><text y="2.8">188</text></g>
<g id="b189" class="n" transform="translate(448 431)"><use href="#e"/><text y="2.8">189</text></g>
<g id="b190" class="n" transform="translate(445 384)"><use href="#e"/><text y="2.8">190</text></g>
<g id="b191" class="n" transform="translate(431 354)"><use href="#e"/><text y="2.8">191</text></g>
<g id="b192" class="n" transform="translate(421 322)"><use href="#e"/><text y="2.8">192</text></g>
<g id="b193" class="n" transform="translate(406 295)"><use href="#e"/><text y="2.8">193</text></g>
<g id="b194" class="n" transform="translate(387 275)"><use href="#e"/><text y="2.8">194</text></g>
<g id="b195" class="n" transform="translate(367 259)"><use href="#e"/><text y="2.8">195</text></g>
<g id="b196" class="n" transform="translate(345 248)"><use href="#e"/><text y="2.8">196</text></g>
<g id="b197" class="n" transform="translate(321 240)"><use href="#e"/><text y="2.8">197</text></g>
<g id="b198" class="n g" transform="translate(296 239)"><use href="#e"/><text y="2.8">198</text></g>
<g id="b199" class="n" transform="translate(480 457)"><use href="#e"/><text y="2.8">199</text></g>
<g id="b200" class="n" transform="translate(477 415)"><use href="#e"/><text y="2.8">200</text></g>
<g id="b201" class="n" transform="translate(473 375)"><use href="#e"/><text y="2.8">201</text></g>
<g id="b202" class="n" transform="translate(426 274)"><use href="#e"/><text y="2.8">202</text></g>
<g id="b203" class="n" transform="translate(404 250)"><use href="#e"/><text y="2.8">203</text></g>
<g id="b204" class="n" transform="translate(384 237)"><use href="#e"/><text y="2.8">204</text></g>
<g id="b205" class="n" transform="translate(361 225)"><use href="#e"/><text y="2.8">205</text></g>
<g id="b206" class="n" transform="translate(333 218)"><use href="#e"/><text y="2.8">206</text></g>
<g id="b207" class="n" transform="translate(307 218)"><use href="#e"/><text y="2.8">207</text></g>
<g id="b208" class="n" transform="translate(504 393)"><use href="#e"/><text y="2.8">208</text></g>
<g id="b209" class="n" transform="translate(496 346)"><use href="#e"/><text y="2.8">209</text></g>
<g id="b210" class="n" transform="translate(442 241)"><use href="#e"/><text y="2.8">210</text></g>
<g id="b211" class="n" transform="translate(419 219)"><use href="#e"/><text y="2.8">211</text></g>
<g id="b212" class="n" transform="translate(395 205)"><use href="#e"/><text y="2.8">212</text></g>
<g id="b213" class="n" transform="translate(372 199)"><use href="#e"/><text y="2.8">213</text></g>
<g id="b214" class="n" transform="translate(347 199)"><use href="#e"/><text y="2.8">214</text></g>
<g id="b215" class="n" transform="translate(318 199)"><use href="#e"/><text y="2.8">215</text></g>
<g id="b216" class="n" transform="translate(519 314)"><use href="#e"/><text y="2.8">216</text></g>
<g id="b217" class="n" transform="translate(502 275)"><use href="#e"/><text y="2.8">217</text></g>
<g id="b218" class="n" transform="translate(482 226)"><use href="#e"/><text y="2.8">218</text></g>
<g id="b219" class="n" transform="translate(455 200)"><use href="#e"/><text y="2.8">219</text></g>
<g id="b220" class="n" transform="translate(428 182)"><use href="#e"/><text y="2.8">220</text></g>
<g id="b221" class="n" transform="translate(401 167)"><use href="#e"/><text y="2.8">221</text></g>
<g id="b222" class="n" transform="translate(375 165)"><use href="#e"/><text y="2.8">222</text></g>
<g id="b223" class="n" transform="translate(352 169)"><use href="#e"/><text y="2.8">223</text></g>
<g id="b224" class="n" transform="translate(329 178)"><use href="#e"/><text y="2.8">224</text></g>
<g id="b225" class="n" transform="translate(452 168)"><use href="#e"/><text y="2.8">225</text></g>
<g id="b226" class="n" transform="translate(443 136)"><use href="#e"/><text y="2.8">226</text></g>
<g id="b227" class="n" transform="translate(477 179)"><use href="#e"/><text y="2.8">227</text></g>
<g id="b228" class="n" transform="translate(504 208)"><use href="#e"/><text y="2.8">228</text></g>
<g id="b229" class="n" transform="translate(526 240)"><use href="#e"/><text y="2.8">229</text></g>
<g id="b230" class="n" transform="translate(429 97)"><use href="#e"/><text y="2.8">230</text></g>
<g id="b231" class="n" transform="translate(467 126)"><use href="#e"/><text y="2.8">231</text></g>
<g id="b232" class="n" transform="translate(500 151)"><use href="#e"/><text y="2.8">232</text></g>
<g id="b233" class="n" transform="translate(526 180)"><use href="#e"/><text y="2.8">233</text></g>
<g id="b234" class="n" transform="translate(406 53)"><use href="#e"/><text y="2.8">234</text></g>
<g id="b235" class="n" transform="translate(443 62)"><use href="#e"/><text y="2.8">235</text></g>
<g id="b236" class="n" transform="translate(478 85)"><use href="#e"/><text y="2.8">236</text></g>
<g id="b237" class="n" transform="translate(516 114)"><use href="#e"/><text y="2.8">237</text></g>
<g id="b238" class="n" transform="translate(373 16)"><use href="#e"/><text y="2.8">238</text></g>
<g id="b239" class="n" transform="translate(418 17)"><use href="#e"/><text y="2.8">239</text></g>
<g id="b240" class="n" transform="translate(459 32)"><use href="#e"/><text y="2.8">240</text></g>
<g id="b241" class="n" transform="translate(176 15)"><use href="#e"/><text y="2.8">241</text></g>
<g id="b242" class="n" transform="translate(133 16)"><use href="#e"/><text y="2.8">242</text></g>
<g id="b243" class="n" transform="translate(91 31)"><use href="#e"/><text y="2.8">243</text></g>
<g id="b244" class="n" transform="translate(144 53)"><use href="#e"/><text y="2.8">244</text></g>
<g id="b245" class="n" transform="translate(106 62)"><use href="#e"/><text y="2.8">245</text></g>
<g id="b246" class="n" transform="translate(71 85)"><use href="#e"/><text y="2.8">246</text></g>
<g id="b247" class="n" transform="translate(34 114)"><use href="#e"/><text y="2.8">247</text></g>
<g id="b248" class="n" transform="translate(120 97)"><use href="#e"/><text y="2.8">248</text></g>
<g id="b249" class="n" transform="translate(82 126)"><use href="#e"/><text y="2.8">249</text></g>
<g id="b250" class="n" transform="translate(50 151)"><use href="#e"/><text y="2.8">250</text></g>
<g id="b251" class="n" transform="translate(23 180)"><use href="#e"/><text y="2.8">251</text></g>
<g id="b252" class="n" transform="translate(107 136)"><use href="#e"/><text y="2.8">252</text></g>
<g id="b253" class="n" transform="translate(98 169)"><use href="#e"/><text y="2.8">253</text></g>
<g id="b254" class="n" transform="translate(73 179)"><use href="#e"/><text y="2.8">254</text></g>
<g id="b255" class="n" transform="translate(46 208)"><use href="#e"/><text y="2.8">255</text></g>
<g id="b256" class="n" transform="translate(24 240)"><use href="#e"/><text y="2.8">256</text></g>
<g id="bREF" class="n g" transform="translate(275 278)"><use href="#e"/><text class="v" y="2.7" textLength="18" lengthAdjust="spacingAndGlyphs">VREF</text></g>
</g>
</svg>
